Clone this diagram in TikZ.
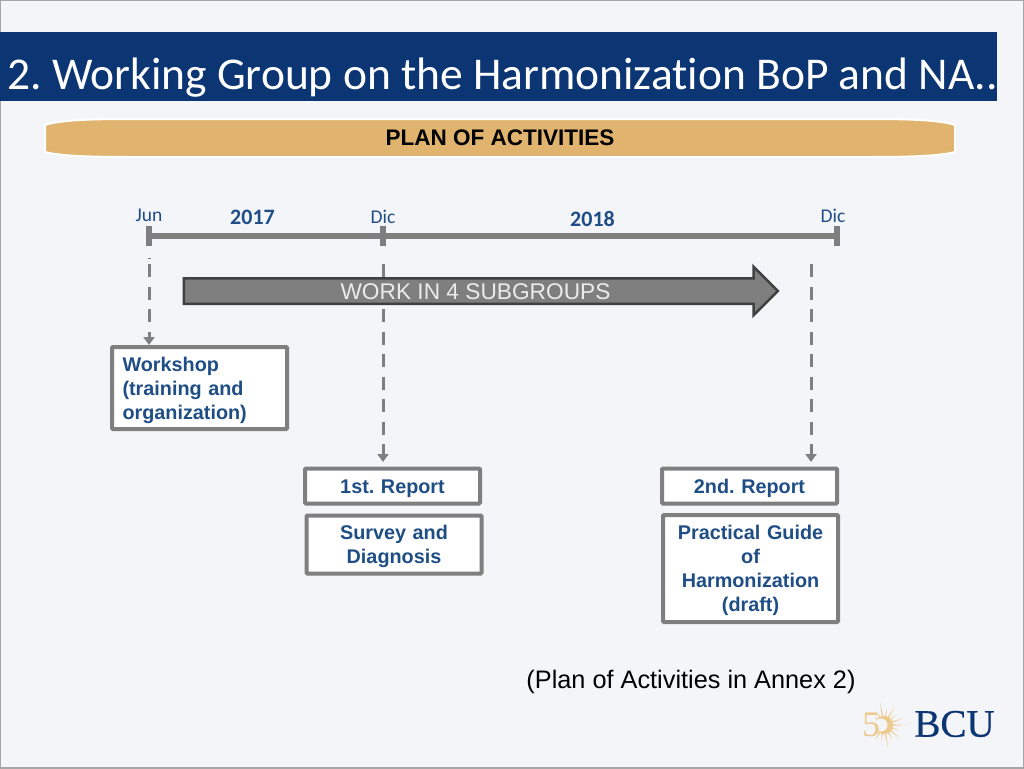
\documentclass[tikz,border=0pt]{standalone}
\usepackage{fontspec}
\setmainfont{Liberation Sans}
\newfontfamily\carlitofont[Ligatures=NoCommon]{Carlito}
\newfontfamily\serifbcu{Liberation Serif}
\newfontfamily\serifbcubold[FakeBold=0.5]{Liberation Serif}
\usepackage{tikz}
\usetikzlibrary{arrows.meta}
\usetikzlibrary{shapes.arrows}
\usetikzlibrary{calc}
\definecolor{pagebg}{HTML}{F4F5F9}
\definecolor{titleblue}{HTML}{0B3573}
\definecolor{bandgold}{HTML}{E0B36E}
\definecolor{linegray}{HTML}{7F7F7F}
\definecolor{arrowedge}{HTML}{404040}
\definecolor{textblue}{HTML}{1F4E86}
\definecolor{logogold}{HTML}{EDC98C}
\frenchspacing

\begin{document}
\begin{tikzpicture}[x=1pt,y=-1pt,
                    box/.style={draw=linegray,fill=white,line width=4pt,rounded corners=1pt,
                                inner sep=0pt,font=\fontsize{19.8}{24}\selectfont\bfseries,text=textblue,
                                align=center,text width=170pt,
                                execute at begin node={\rule{0pt}{19pt}}},
                    month/.style={font=\carlitofont\fontsize{19.5}{22}\selectfont,text=textblue},
                    year/.style={font=\carlitofont\fontsize{22}{24}\selectfont\bfseries,text=textblue},
                    tick/.style={draw=linegray,line width=6pt},
                    guide/.style={draw=linegray,line width=3pt,dash pattern=on 13pt off 9.5pt,
                                  -{Triangle[length=8pt,width=11pt]}}]
    \useasboundingbox (0,0) rectangle (1024,768);
    \fill[pagebg] (0,0) rectangle (1024,768);
    \draw[gray!70,line width=1.5pt] (0,0) rectangle (1024,768);

    % title and band
    \node (TitleBar) [fill=titleblue,anchor=west,minimum width=997pt,minimum height=69pt,inner sep=0pt] at (0,66.5) {};
    \node (Title) [text=white,anchor=base west,inner sep=0pt,
                   font=\carlitofont\fontsize{45.5}{48}\selectfont] at (7,89)
                   {2. Working Group on the Harmonization BoP and NA..};
    \draw[draw=white,line width=2pt,fill=bandgold] (45,125) .. controls (60,120) and (90,119) .. (130,119)
        -- (870,119) .. controls (910,119) and (940,120) .. (955,125) -- (955,152)
        .. controls (940,156) and (910,157) .. (870,157) -- (130,157)
        .. controls (90,157) and (60,156) .. (45,152) -- cycle;
    \node (Plan) [font=\fontsize{22.5}{24}\selectfont\bfseries] at (500,138) {PLAN OF ACTIVITIES};

    % time line
    \coordinate (Jun) at (149,236);
    \coordinate (DicA) at (383,236);
    \coordinate (DicB) at (837,236);
    \draw[linegray,line width=5.5pt] (Jun) -- (DicB);
    \draw[tick] (149,226) -- (149,246);
    \draw[tick] (383,226) -- (383,246);
    \draw[tick] (837,226) -- (837,246);
    \node (LabJun) [month] at (149,215.5) {Jun};
    \node (LabDicA) [month] at (383,216.5) {Dic};
    \node (LabDicB) [month] at (833,215.5) {Dic};
    \node (Year17) [year] at (252.5,217.5) {2017};
    \node (Year18) [year] at (592.5,218.5) {2018};

    % boxes
    \node (Workshop) [box,align=left,text width=154pt,minimum width=175pt,minimum height=82pt] at (199.5,388)
        {Workshop\\(training and\\organization)};
    \node (ReportA) [box,minimum width=175pt,minimum height=35pt] at (392.5,486) {1st. Report};
    \node (Survey) [box,minimum width=175pt,minimum height=58pt] at (394,544.5) {Survey and\\Diagnosis};
    \node (ReportB) [box,minimum width=175pt,minimum height=35pt] at (749.5,486) {2nd. Report};
    \node (Guide) [box,minimum width=175pt,minimum height=107pt] at (750.5,568.5) {Practical Guide\\of\\Harmonization\\(draft)};

    % dashed guides
    \coordinate (GuideJun) at (149,264);
    \coordinate (GuideA) at (383,264);
    \coordinate (GuideB) at (811,264);
    \coordinate (EndA) at (383,462);
    \coordinate (EndB) at (811,462);
    \draw[linegray,line width=1pt] (147.5,258.5) -- (150.5,258.5);
    \draw[guide] (GuideJun) -- (Workshop.north -| GuideJun);
    \draw[guide] (GuideA) -- (EndA);
    \draw[guide] (GuideB) -- (EndB);

    % arrow
    \node (Work) [draw=arrowedge,fill=linegray,line width=2.5pt,single arrow,single arrow head extend=11.5pt,
                  single arrow tip angle=90,single arrow head indent=0pt,inner sep=0pt,
                  text height=23pt,text depth=0pt,minimum height=594pt,minimum width=46pt,anchor=west] at (182.5,291) {};
    \node (WorkText) [text=white!92!black,font=\fontsize{22.7}{24}\selectfont] at (475.5,291.5) {WORK IN 4 SUBGROUPS};

    \node (Annex) [font=\fontsize{25.3}{28}\selectfont] at (691,681.5) {(Plan of Activities in Annex 2)};

    % logo
    \coordinate (Sun) at (884,725);
    \foreach \a/\r in {0/23,20/16,40/21,60/16,80/24,100/17,120/18,140/13,220/13,240/17,260/24,280/17,300/21,320/16,340/21}
        \fill[logogold] ($(Sun)+(\a+6:7)$) -- ($(Sun)+(\a:\r)$) -- ($(Sun)+(\a-6:7)$) -- cycle;
    \fill[logogold] (Sun) circle (9);
    \fill[pagebg] (881,725) circle (6.5);
    \node (Five) [text=logogold,font=\serifbcu\fontsize{36}{38}\selectfont,inner sep=0pt] at (871,725) {5};
    \node (Bcu) [text=titleblue,font=\serifbcubold\fontsize{39}{40}\selectfont,inner sep=0pt] at (954.5,724) {BCU};
\end{tikzpicture}
\end{document}
